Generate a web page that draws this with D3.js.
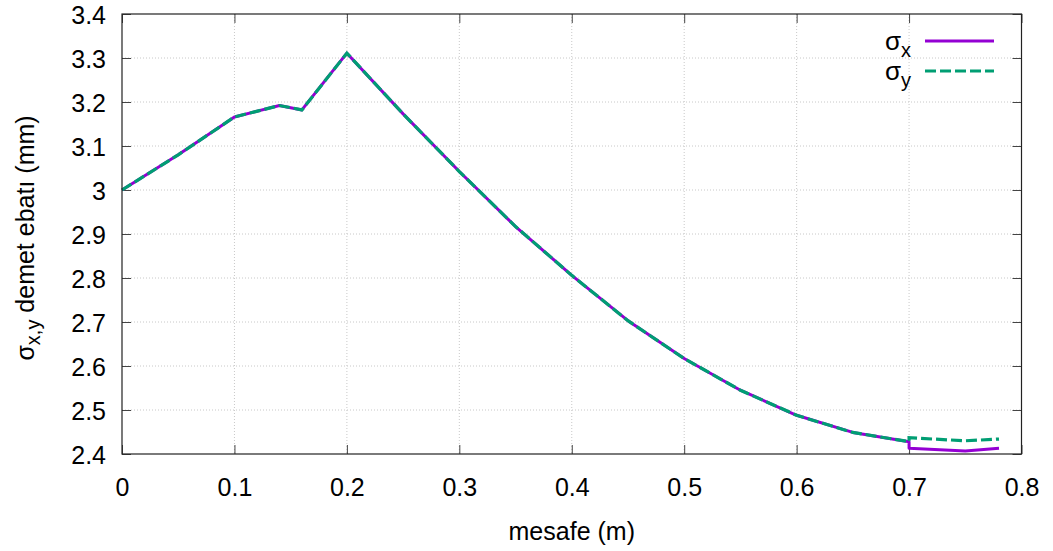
<!DOCTYPE html>
<html>
<head>
<meta charset="utf-8">
<script src="https://cdn.jsdelivr.net/npm/d3@7"></script>
<style>
  html, body { margin: 0; padding: 0; background: #fff; }
  svg { display: block; }
  text { font-family: "Liberation Sans", Arial, sans-serif; fill: #000; }
</style>
</head>
<body>
<svg id="chart" width="1053" height="551"></svg>
<script>
// ---- data ----
const distX = [0, 0.05, 0.1, 0.14, 0.16, 0.2, 0.25, 0.3, 0.35, 0.4, 0.45, 0.5, 0.55, 0.6, 0.65, 0.7, 0.7, 0.75, 0.78];
const sigmaX = [3.0, 3.08, 3.166, 3.192, 3.182, 3.311, 3.173, 3.042, 2.917, 2.806, 2.703, 2.617, 2.545, 2.488, 2.449, 2.428, 2.413, 2.407, 2.413];
const sigmaY = [3.0, 3.08, 3.166, 3.192, 3.182, 3.311, 3.173, 3.042, 2.917, 2.806, 2.703, 2.617, 2.545, 2.488, 2.449, 2.428, 2.437, 2.43, 2.434];
const xTicks = [0, 0.1, 0.2, 0.3, 0.4, 0.5, 0.6, 0.7, 0.8];
const yTicks = [2.4, 2.5, 2.6, 2.7, 2.8, 2.9, 3.0, 3.1, 3.2, 3.3, 3.4];
const seriesNames = ["x", "y"];
const seriesColors = ["#9400d3", "#009e73"];

// ---- layout ----
const svg = d3.select("#chart");
const L = 122, R = 1021.5, T = 14, B = 454;
const x = d3.scaleLinear().domain([0, 0.8]).range([L, R]);
const y = d3.scaleLinear().domain([2.4, 3.4]).range([B, T]);
const fmt = d => String(+d.toFixed(1));

// grid
const grid = svg.append("g");
grid.selectAll("line.gx").data(xTicks.filter(d => d > 0 && d < 0.8)).join("line")
  .attr("x1", d => x(d)).attr("x2", d => x(d)).attr("y1", T).attr("y2", B)
  .attr("stroke", "#c8c8c8").attr("stroke-width", 1).attr("stroke-dasharray", "1,2");
grid.selectAll("line.gy").data(yTicks.filter(d => d > 2.4 && d < 3.4)).join("line")
  .attr("x1", L).attr("x2", R).attr("y1", d => y(d)).attr("y2", d => y(d))
  .attr("stroke", "#c8c8c8").attr("stroke-width", 1).attr("stroke-dasharray", "1,2");

// axes (ticks inward, mirrored)
const tl = 9;
const axB = svg.append("g").attr("transform", `translate(0,${B})`)
  .call(d3.axisBottom(x).tickValues(xTicks).tickSize(-tl).tickPadding(24).tickFormat(fmt));
const axT = svg.append("g").attr("transform", `translate(0,${T})`)
  .call(d3.axisTop(x).tickValues(xTicks).tickSize(-tl).tickFormat(""));
const axL = svg.append("g").attr("transform", `translate(${L},0)`)
  .call(d3.axisLeft(y).tickValues(yTicks).tickSize(-tl).tickPadding(16).tickFormat(fmt));
const axR = svg.append("g").attr("transform", `translate(${R},0)`)
  .call(d3.axisRight(y).tickValues(yTicks).tickSize(-tl).tickFormat(""));
[axB, axT, axL, axR].forEach(a => {
  a.select(".domain").remove();
  a.selectAll(".tick line").attr("stroke", "#444").attr("stroke-width", 1);
  a.selectAll(".tick text").style("font-size", "25px").attr("fill", "#000");
});
axB.selectAll(".tick text").attr("dy", "0.71em");
axL.selectAll(".tick text").attr("dy", "0.36em");

// series
const line = d3.line().x(d => x(d[0])).y(d => y(d[1]));
const datX = distX.map((d, i) => [d, sigmaX[i]]);
const datY = distX.map((d, i) => [d, sigmaY[i]]);
svg.append("path").datum(datX).attr("d", line).attr("fill", "none")
  .attr("stroke", seriesColors[0]).attr("stroke-width", 3).attr("stroke-linejoin", "round");
svg.append("path").datum(datY).attr("d", line).attr("fill", "none")
  .attr("stroke", seriesColors[1]).attr("stroke-width", 3.2).attr("stroke-dasharray", "11,4");

// border
svg.append("rect").attr("x", L).attr("y", T).attr("width", R - L).attr("height", B - T)
  .attr("fill", "none").attr("stroke", "#222").attr("stroke-width", 1.2);

// legend
const legY = [41, 71];
seriesNames.forEach((n, i) => {
  const t = svg.append("text").attr("x", 911).attr("y", legY[i] + 9).attr("text-anchor", "end")
    .style("font-size", "26px");
  t.append("tspan").text("σ");
  t.append("tspan").text(n).attr("dy", 7).style("font-size", "20px");
  svg.append("line").attr("x1", 925).attr("x2", 994).attr("y1", legY[i]).attr("y2", legY[i])
    .attr("stroke", seriesColors[i]).attr("stroke-width", 3)
    .attr("stroke-dasharray", i === 1 ? "11,4" : null);
});

// axis titles
svg.append("text").attr("x", (L + R) / 2).attr("y", 540).attr("text-anchor", "middle")
  .style("font-size", "25px").text("mesafe (m)");
const yl = svg.append("text").attr("transform", `translate(34,238) rotate(-90)`)
  .attr("text-anchor", "middle").style("font-size", "25px");
yl.append("tspan").text("σ");
yl.append("tspan").text("x,y").attr("dy", 6).style("font-size", "20px");
yl.append("tspan").text(" demet ebatı (mm)").attr("dy", -6);
</script>
</body>
</html>
